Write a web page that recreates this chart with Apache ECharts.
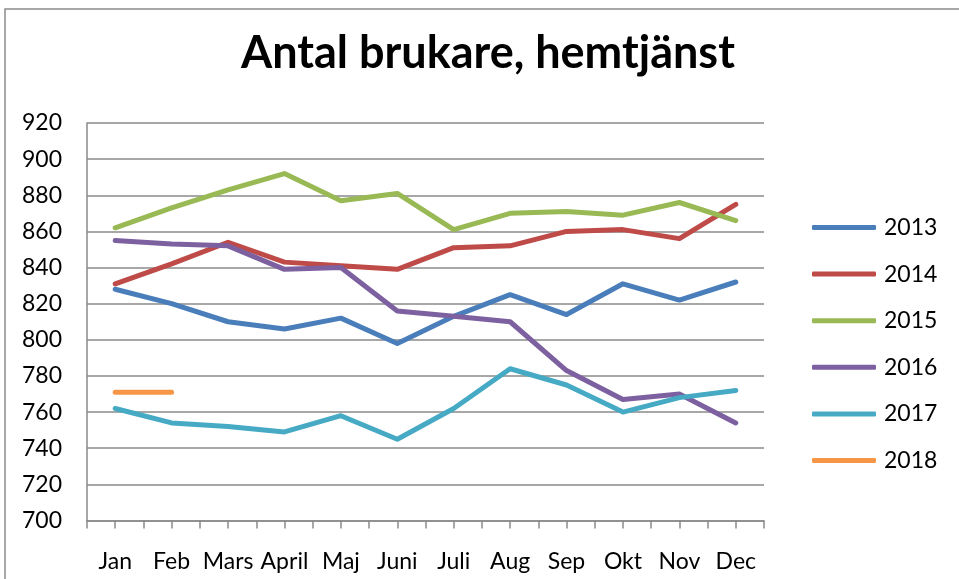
<!DOCTYPE html>
<html>
<head>
<meta charset="utf-8">
<script src="https://cdn.jsdelivr.net/npm/echarts@6/dist/echarts.min.js"></script>
<style>
  html, body { margin: 0; padding: 0; background: #fff; }
  #chart { width: 959px; height: 579px; }
</style>
</head>
<body>
<div id="chart"></div>
<script>
// data
const months = ['Jan', 'Feb', 'Mars', 'April', 'Maj', 'Juni', 'Juli', 'Aug', 'Sep', 'Okt', 'Nov', 'Dec'];
const years = ['2013', '2014', '2015', '2016', '2017', '2018'];
const y2013 = [828, 820, 810, 806, 812, 798, 813, 825, 814, 831, 822, 832];
const y2014 = [831, 842, 854, 843, 841, 839, 851, 852, 860, 861, 856, 875];
const y2015 = [862, 873, 883, 892, 877, 881, 861, 870, 871, 869, 876, 866];
const y2016 = [855, 853, 852, 839, 840, 816, 813, 810, 783, 767, 770, 754];
const y2017 = [762, 754, 752, 749, 758, 745, 762, 784, 775, 760, 768, 772];
const y2018 = [771, 771];
const colors = ['#4A7EBB', '#BE4B48', '#98B954', '#7D60A0', '#46AAC5', '#F79646'];

const font = 'Lato, "Open Sans", sans-serif';
const gridColor = '#8a8a8a';

const chart = echarts.init(document.getElementById('chart'));

function makeSeries(name, data, i) {
  return {
    name: name,
    type: 'line',
    data: data,
    symbol: 'none',
    lineStyle: { width: 5, color: colors[i], cap: 'round', join: 'round' },
    itemStyle: { color: colors[i] }
  };
}

const option = {
  animation: false,
  title: {
    text: 'Antal brukare, hemtjänst',
    left: 236,
    top: 26,
    textStyle: { fontFamily: font, fontSize: 45, fontWeight: 'bold', color: '#000' }
  },
  graphic: [{
    type: 'rect',
    shape: { x: 5, y: 9, width: 1200, height: 1200 },
    style: { fill: 'none', stroke: '#8c8c8c', lineWidth: 1.5 },
    silent: true
  }],
  legend: {
    orient: 'vertical',
    left: 807,
    top: 209.5,
    icon: 'roundRect',
    itemWidth: 64,
    itemHeight: 5,
    itemGap: 20.6,
    data: years,
    textStyle: { fontFamily: font, fontSize: 23, color: '#000', lineHeight: 26, padding: [0, 0, 0, 3] }
  },
  grid: { left: 87, top: 123, right: 195, bottom: 58.5, containLabel: false },
  xAxis: [{
    type: 'category',
    data: months,
    boundaryGap: true,
    axisLine: { lineStyle: { color: gridColor, width: 1.5 } },
    axisTick: { show: true, alignWithLabel: true, length: 8, lineStyle: { color: gridColor, width: 1.5 } },
    axisLabel: { interval: 0, fontFamily: font, fontSize: 23, color: '#000', margin: 30 }
  }, {
    type: 'category',
    data: months,
    position: 'bottom',
    boundaryGap: true,
    axisLine: { show: false },
    axisTick: { show: true, interval: 0, length: 8, lineStyle: { color: gridColor, width: 1.5 } },
    axisLabel: { show: false }
  }],
  yAxis: {
    type: 'value',
    min: 700,
    max: 920,
    interval: 20,
    axisLine: { show: true, lineStyle: { color: gridColor, width: 1.5 } },
    axisTick: { show: false },
    splitLine: { lineStyle: { color: gridColor, width: 1.5 } },
    axisLabel: { fontFamily: font, fontSize: 23, color: '#000', margin: 25 }
  },
  series: [
    makeSeries('2013', y2013, 0),
    makeSeries('2014', y2014, 1),
    makeSeries('2015', y2015, 2),
    makeSeries('2016', y2016, 3),
    makeSeries('2017', y2017, 4),
    makeSeries('2018', y2018, 5)
  ]
};

chart.setOption(option);
</script>
</body>
</html>
